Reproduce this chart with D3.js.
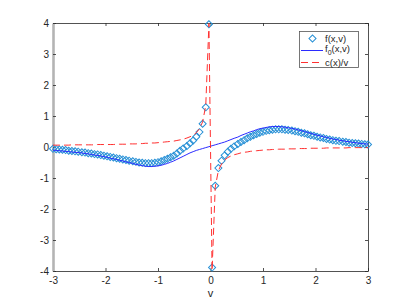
<!DOCTYPE html>
<html>
<head>
<meta charset="utf-8">
<script src="https://cdn.jsdelivr.net/npm/d3@7"></script>
<style>
    body { margin: 0; background: #fff; }
    text { font-family: "Liberation Sans", Arial, sans-serif; fill: #262626; }
</style>
</head>
<body>
<div class="chart"></div>
<script>
// sample points in v (same grid for all three curves)
var vGrid = [
    -3.00,-2.94,-2.88,-2.82,-2.76,-2.70,-2.64,-2.58,-2.52,-2.45,
    -2.39,-2.33,-2.27,-2.21,-2.15,-2.09,-2.03,-1.97,-1.91,-1.85,
    -1.79,-1.73,-1.67,-1.61,-1.55,-1.48,-1.42,-1.36,-1.30,-1.24,
    -1.18,-1.12,-1.06,-1.00,-0.94,-0.88,-0.82,-0.76,-0.70,-0.64,
    -0.58,-0.52,-0.45,-0.39,-0.33,-0.27,-0.21,-0.15,-0.09,-0.03,
    0.03,0.09,0.15,0.21,0.27,0.33,0.39,0.45,0.52,0.58,
    0.64,0.70,0.76,0.82,0.88,0.94,1.00,1.06,1.12,1.18,
    1.24,1.30,1.36,1.42,1.48,1.55,1.61,1.67,1.73,1.79,
    1.85,1.91,1.97,2.03,2.09,2.15,2.21,2.27,2.33,2.39,
    2.45,2.52,2.58,2.64,2.70,2.76,2.82,2.88,2.94,3.00
];
// f(x,v) - diamonds
var fVals = [
    -0.06,-0.07,-0.08,-0.09,-0.10,-0.12,-0.13,-0.14,-0.15,-0.17,
    -0.18,-0.20,-0.21,-0.23,-0.24,-0.26,-0.28,-0.30,-0.32,-0.34,
    -0.36,-0.38,-0.40,-0.42,-0.44,-0.46,-0.48,-0.50,-0.51,-0.52,
    -0.52,-0.52,-0.51,-0.49,-0.46,-0.42,-0.38,-0.33,-0.28,-0.21,
    -0.12,-0.05,0.03,0.12,0.21,0.33,0.48,0.75,1.28,3.96,
    -3.89,-1.25,-0.68,-0.44,-0.27,-0.15,-0.06,0.02,0.10,0.16,
    0.22,0.28,0.33,0.38,0.42,0.46,0.49,0.52,0.54,0.56,
    0.57,0.57,0.57,0.56,0.55,0.53,0.51,0.49,0.46,0.44,
    0.41,0.38,0.36,0.33,0.31,0.29,0.26,0.24,0.22,0.20,
    0.19,0.17,0.16,0.14,0.13,0.12,0.11,0.10,0.09,0.08
];
// f_0(x,v) - solid blue
var f0Vals = [
    -0.10,-0.11,-0.12,-0.13,-0.14,-0.15,-0.16,-0.17,-0.18,-0.19,
    -0.21,-0.22,-0.24,-0.26,-0.27,-0.29,-0.31,-0.33,-0.36,-0.38,
    -0.40,-0.43,-0.45,-0.48,-0.50,-0.53,-0.56,-0.58,-0.60,-0.62,
    -0.63,-0.63,-0.62,-0.61,-0.59,-0.56,-0.53,-0.49,-0.45,-0.40,
    -0.35,-0.30,-0.24,-0.19,-0.15,-0.11,-0.08,-0.05,-0.02,0.01,
    0.04,0.07,0.10,0.13,0.16,0.20,0.24,0.28,0.32,0.37,
    0.41,0.45,0.49,0.52,0.56,0.59,0.61,0.63,0.65,0.66,
    0.66,0.66,0.65,0.64,0.62,0.60,0.58,0.55,0.53,0.50,
    0.47,0.44,0.41,0.38,0.36,0.33,0.31,0.28,0.26,0.24,
    0.22,0.20,0.18,0.17,0.15,0.14,0.12,0.11,0.10,0.09
];
// c(x)/v - red dashed
var cOverV = [
    0.06,0.06,0.06,0.06,0.06,0.06,0.07,0.07,0.07,0.07,
    0.07,0.07,0.07,0.07,0.08,0.08,0.08,0.08,0.08,0.08,
    0.09,0.09,0.09,0.09,0.10,0.10,0.10,0.11,0.11,0.12,
    0.12,0.13,0.13,0.14,0.15,0.16,0.17,0.18,0.19,0.21,
    0.23,0.25,0.29,0.33,0.38,0.46,0.59,0.81,1.34,3.98,
    -3.98,-1.30,-0.76,-0.55,-0.42,-0.34,-0.29,-0.25,-0.22,-0.19,
    -0.17,-0.16,-0.14,-0.13,-0.12,-0.11,-0.10,-0.09,-0.09,-0.08,
    -0.08,-0.07,-0.07,-0.07,-0.06,-0.06,-0.06,-0.05,-0.05,-0.05,
    -0.05,-0.04,-0.04,-0.04,-0.04,-0.04,-0.03,-0.03,-0.03,-0.03,
    -0.03,-0.03,-0.03,-0.02,-0.02,-0.02,-0.02,-0.02,-0.02,-0.02
];
var xTicks = [-3,-2,-1,0,1,2,3];
var yTicks = [-4,-3,-2,-1,0,1,2,3,4];
var xLabel = "v";

var width = 407, height = 305;
var margin = { left: 53, right: 368, top: 23, bottom: 271 };

var svg = d3.select(".chart").append("svg")
    .attr("width", width)
    .attr("height", height);

var x = d3.scaleLinear().domain([-3, 3]).range([margin.left, margin.right]);
var y = d3.scaleLinear().domain([-4, 4]).range([margin.bottom, margin.top]);

var axisColor = "#262626";

// bottom / top
var xAxis = svg.append("g")
    .attr("transform", "translate(0," + margin.bottom + ")")
    .call(d3.axisBottom(x).tickValues(xTicks).tickSizeInner(-3).tickSizeOuter(0).tickPadding(6)
        .tickFormat(function(d) { return String(d); }));
var xTop = svg.append("g")
    .attr("transform", "translate(0," + margin.top + ")")
    .call(d3.axisTop(x).tickValues(xTicks).tickSizeInner(-3).tickSizeOuter(0).tickFormat(""));
// left / right
var yAxis = svg.append("g")
    .attr("transform", "translate(" + margin.left + ",0)")
    .call(d3.axisLeft(y).tickValues(yTicks).tickSizeInner(-3).tickSizeOuter(0).tickPadding(4)
        .tickFormat(function(d) { return String(d); }));
var yRight = svg.append("g")
    .attr("transform", "translate(" + margin.right + ",0)")
    .call(d3.axisRight(y).tickValues(yTicks).tickSizeInner(-3).tickSizeOuter(0).tickFormat(""));

svg.selectAll(".domain").attr("stroke", axisColor).attr("stroke-width", 0.8);
svg.selectAll(".tick line").attr("stroke", axisColor).attr("stroke-width", 0.8);
svg.selectAll(".tick text").attr("fill", axisColor).style("font-size", "10px")
    .style("font-family", "'Liberation Sans', Arial, sans-serif");
// the left spine is drawn wider and lighter in the reference
yAxis.select(".domain").attr("stroke", "#b4b4b4").attr("stroke-width", 2.6);

svg.append("text")
    .attr("x", x(0))
    .attr("y", 297)
    .attr("text-anchor", "middle")
    .style("font-size", "11px")
    .text(xLabel);

var pts = vGrid.map(function(v, i) {
    return { v: v, f: fVals[i], f0: f0Vals[i], c: cOverV[i] };
});

// f(x,v) markers
var diamond = d3.symbol().type(d3.symbolSquare).size(25);
var diamondColor = "#2790d6";
svg.append("g").selectAll("path")
    .data(pts)
    .enter().append("path")
    .attr("d", diamond)
    .attr("transform", function(d) { return "translate(" + x(d.v) + "," + y(d.f) + ") rotate(45)"; })
    .attr("fill", "none")
    .attr("stroke", diamondColor)
    .attr("stroke-width", 1);

// f_0 line
var line0 = d3.line().x(function(d) { return x(d.v); }).y(function(d) { return y(d.f0); });
svg.append("path")
    .datum(pts)
    .attr("d", line0)
    .attr("fill", "none")
    .attr("stroke", "#2b2bff")
    .attr("stroke-width", 1);

// c(x)/v dashed
var lineC = d3.line().x(function(d) { return x(d.v); }).y(function(d) { return y(d.c); });
svg.append("path")
    .datum(pts)
    .attr("d", lineC)
    .attr("fill", "none")
    .attr("stroke", "#ff3030")
    .attr("stroke-width", 1)
    .attr("stroke-dasharray", "7,4");

// legend
var lg = svg.append("g");
lg.append("rect")
    .attr("x", 299.5).attr("y", 31.5)
    .attr("width", 59).attr("height", 36)
    .attr("fill", "#fff")
    .attr("stroke", "#555")
    .attr("stroke-width", 0.8);

lg.append("path")
    .attr("d", diamond)
    .attr("transform", "translate(312.5,38.5) rotate(45)")
    .attr("fill", "none")
    .attr("stroke", diamondColor);
lg.append("line")
    .attr("x1", 301).attr("x2", 323).attr("y1", 50.5).attr("y2", 50.5)
    .attr("stroke", "#2b2bff");
lg.append("line")
    .attr("x1", 301).attr("x2", 323).attr("y1", 62.5).attr("y2", 62.5)
    .attr("stroke", "#ff3030").attr("stroke-dasharray", "7,4");

lg.append("text").attr("x", 325).attr("y", 41.5).style("font-size", "9.5px").text("f(x,v)");
var t2 = lg.append("text").attr("x", 325).attr("y", 51.5).style("font-size", "9.5px");
t2.append("tspan").text("f");
t2.append("tspan").attr("dy", 3).style("font-size", "7px").text("0");
t2.append("tspan").attr("dy", -3).text("(x,v)");
lg.append("text").attr("x", 325).attr("y", 65.5).style("font-size", "9.5px").text("c(x)/v");
</script>
</body>
</html>
